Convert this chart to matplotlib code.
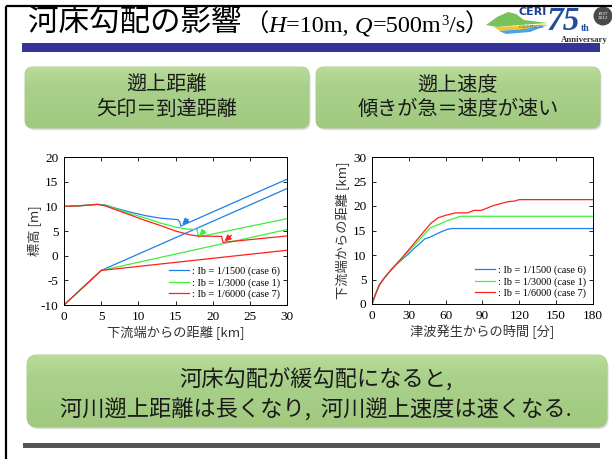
import matplotlib
matplotlib.use("Agg")
import matplotlib.pyplot as plt
import numpy as np
from matplotlib.patches import FancyBboxPatch, Rectangle, Polygon, Circle

plt.rcParams['font.family'] = ['Noto Sans CJK JP', 'DejaVu Sans']
plt.rcParams['axes.unicode_minus'] = False
JP = ['Noto Sans CJK JP', 'DejaVu Sans']
SERIF = ['Liberation Serif', 'Noto Sans CJK JP']

# ---------------- data ----------------
# left chart: river bed profiles (distance km, elevation m)
bed_x = [0, 5, 30]
bed_1500 = [-10, -3, 13.6]
bed_3000 = [-10, -3, 5.3]
bed_6000 = [-10, -3, 1.1]

# water surface (tsunami max + initial river level)
ws_x_1500 = [0, 2, 4.5, 5.5, 7, 9, 11, 13, 14.5, 15.3, 15.6, 15.7, 30]
ws_y_1500 = [10, 10.1, 10.4, 10.3, 9.6, 8.8, 8.1, 7.6, 7.4, 7.3, 6.8, 6.0, 15.5]
ws_x_3000 = [0, 2, 4.5, 5.5, 7, 9, 11, 13, 15, 16.5, 17.9, 18.0, 18.1, 30]
ws_y_3000 = [10, 10.1, 10.4, 10.2, 9.5, 8.5, 7.6, 6.6, 5.8, 5.4, 5.3, 4.5, 3.8, 7.5]
ws_x_6000 = [0, 2, 4.5, 5.5, 7, 9, 11, 13, 15, 17, 18, 21.2, 21.3, 21.4, 30]
ws_y_6000 = [10, 10.1, 10.4, 10.1, 9.3, 8.2, 7.1, 6.1, 5.0, 4.2, 4.0, 3.9, 3.3, 2.7, 4.0]

# arrows marking the run-up reach (tail -> head)
arrow_tail = [(16.7, 7.4), (18.9, 5.1), (22.5, 4.1)]
arrow_head = [(15.9, 6.3), (18.2, 4.0), (21.6, 2.9)]

# right chart: front position vs time (min, km)
t_1500 = [0, 3, 6, 10, 15, 20, 25, 30, 35, 40, 43, 47, 51, 57, 61, 65, 180]
d_1500 = [0, 2.1, 3.9, 5.3, 6.8, 8.1, 9.2, 10.3, 11.5, 12.6, 13.3, 13.6, 14.1, 14.8, 15.2, 15.4, 15.4]
t_3000 = [0, 3, 6, 10, 15, 20, 25, 30, 35, 40, 45, 48, 52, 56, 60, 65, 72, 180]
d_3000 = [0, 2.1, 3.9, 5.3, 6.8, 8.2, 9.5, 10.8, 12.1, 13.5, 14.9, 15.6, 16.0, 16.4, 16.9, 17.3, 17.9, 17.9]
t_6000 = [0, 3, 6, 10, 15, 20, 25, 30, 35, 40, 45, 48, 54, 60, 68, 78, 83, 89, 94, 99, 105, 111, 116, 120, 180]
d_6000 = [0, 2.1, 3.9, 5.3, 6.8, 8.2, 9.6, 11.1, 12.6, 14.1, 15.6, 16.5, 17.6, 18.1, 18.6, 18.6, 19.1, 19.1, 19.6, 20.1, 20.5, 20.9, 21.0, 21.3, 21.3]

labels = [': Ib = 1/1500 (case 6)', ': Ib = 1/3000 (case 1)', ': Ib = 1/6000 (case 7)']
colors = ['#1f7fe8', '#3cf03c', '#ff1f1f']

left_xticks = [0, 5, 10, 15, 20, 25, 30]
left_yticks = [-10, -5, 0, 5, 10, 15, 20]
right_xticks = [0, 30, 60, 90, 120, 150, 180]
right_yticks = [0, 5, 10, 15, 20, 25, 30]

# ---------------- figure ----------------
W, H = 612, 459
fig = plt.figure(figsize=(W / 100, H / 100), dpi=100)
fig.patch.set_facecolor('white')
bg = fig.add_axes([0, 0, 1, 1])
bg.set_xlim(0, W)
bg.set_ylim(H, 0)
bg.axis('off')

# slide frame
bg.plot([6, 6], [6, H], color='black', lw=1.6, solid_capstyle='butt')
bg.plot([6, W], [6, 6], color='black', lw=1.6, solid_capstyle='butt')

# title bar + bottom bar
bg.add_patch(Rectangle((22, 43), 578, 9, facecolor='#333399', edgecolor='none'))
bg.add_patch(Rectangle((23, 443), 577, 4.5, facecolor='#555555', edgecolor='none'))

# title text pieces, placed sequentially
fig.canvas.draw()
renderer = fig.canvas.get_renderer()
xpos = 28
base = 32
pieces = [
    ('河床勾配の影響', JP, 'normal', 22, 0),
    ('（', JP, 'normal', 17.5, 0),
    ('H', SERIF, 'italic', 17.5, 0),
    ('=10m, ', SERIF, 'normal', 17.5, 0),
    ('Q', SERIF, 'italic', 17.5, 0),
    ('=500m', SERIF, 'normal', 17.5, 0),
    ('3', SERIF, 'normal', 10.5, -7),
    ('/s', SERIF, 'normal', 17.5, 0),
    ('）', JP, 'normal', 17.5, 0),
]
for i, (s, fam, sty, sz, dy) in enumerate(pieces):
    if i == 1:
        xpos += 3
    t = bg.text(xpos, base + dy, s, family=fam, style=sty, fontsize=sz,
                va='baseline', ha='left', color='black')
    bb = t.get_window_extent(renderer)
    xpos += bb.width

# logo (approximation)
bg.add_patch(Polygon([(486, 25), (497, 17), (508, 12), (516, 14), (524, 20), (548, 23), (520, 25), (497, 27)],
                     closed=True, facecolor='#78c25a', edgecolor='none'))
bg.add_patch(Polygon([(494, 27), (520, 26), (548, 24), (524, 29), (500, 31)],
                     closed=True, facecolor='#f4c531', edgecolor='none'))
bg.add_patch(Polygon([(499, 31), (524, 29), (548, 25), (530, 32), (506, 34)],
                     closed=True, facecolor='#4ba6e0', edgecolor='none'))
bg.text(533, 12, 'CERI', fontsize=8, fontweight='bold', color='#1b3f8f', ha='center', va='center',
        family=['DejaVu Sans Condensed', 'DejaVu Sans'])
bg.text(531, 27, 'COLD REGION', fontsize=2.6, color='#1b3f8f', ha='center', va='center')
bg.text(547, 30, '75', fontsize=24, style='italic', fontweight='bold', color='#1f4e9c',
        ha='left', va='baseline', family=SERIF)
bg.text(581, 31, 'th', fontsize=7, fontweight='bold', color='#1f4e9c', ha='left', va='baseline',
        family=SERIF)
bg.add_patch(Circle((603, 16), 9.5, facecolor='#4a4a4a', edgecolor='none'))
bg.text(603, 16, '1937\n2012', fontsize=3.8, color='white', ha='center', va='center', family=SERIF,
        linespacing=1.0)
bg.text(584, 42.5, 'Anniversary', fontsize=6.3, fontweight='bold', color='#333333', ha='center',
        va='baseline', family=SERIF)


def green_box(x0, y0, x1, y1, r=8):
    sh = FancyBboxPatch((x0 + 1.5, y0 + 2), x1 - x0, y1 - y0,
                        boxstyle=f"round,pad=0,rounding_size={r}",
                        facecolor='#9a9a9a', edgecolor='none', alpha=0.35)
    bg.add_patch(sh)
    box = FancyBboxPatch((x0, y0), x1 - x0, y1 - y0,
                         boxstyle=f"round,pad=0,rounding_size={r}",
                         facecolor='#a9d18c', edgecolor='#9cc47f', lw=0.6)
    bg.add_patch(box)
    grad = np.linspace(0, 1, 100).reshape(-1, 1)
    c_top = np.array([0.73, 0.86, 0.60])
    c_mid = np.array([0.665, 0.82, 0.545])
    c_bot = np.array([0.63, 0.79, 0.50])
    img = np.where(grad < 0.3, c_top + (c_mid - c_top) * (grad / 0.3),
                   c_mid + (c_bot - c_mid) * ((grad - 0.3) / 0.7))
    img = img.reshape(100, 1, 3)
    im = bg.imshow(img, extent=(x0, x1, y1, y0), aspect='auto', zorder=box.get_zorder() + 0.1,
                   interpolation='bilinear')
    im.set_clip_path(box)


green_box(25, 67, 309, 128)
green_box(316, 67, 600, 128)
green_box(27, 355, 607, 427, r=10)

bg.set_xlim(0, W)
bg.set_ylim(H, 0)

tc = '#1a1a1a'
bg.text(167, 85, '遡上距離', fontsize=14.5, ha='center', va='center', color=tc, zorder=5)
bg.text(167, 109, '矢印＝到達距離', fontsize=14.5, ha='center', va='center', color=tc, zorder=5)
bg.text(458, 85, '遡上速度', fontsize=14.5, ha='center', va='center', color=tc, zorder=5)
bg.text(458, 109, '傾きが急＝速度が速い', fontsize=14.5, ha='center', va='center', color=tc, zorder=5)
bg.text(316, 380, '河床勾配が緩勾配になると,', fontsize=16, ha='center', va='center', color=tc, zorder=5)
bg.text(316, 410, '河川遡上距離は長くなり,  河川遡上速度は速くなる.', fontsize=16, ha='center',
        va='center', color=tc, zorder=5)


def px_axes(x0, y0, x1, y1):
    return fig.add_axes([x0 / W, 1 - y1 / H, (x1 - x0) / W, (y1 - y0) / H])


def style_axes(ax, xt, yt):
    ax.set_xticks(xt)
    ax.set_yticks(yt)
    ax.tick_params(direction='in', length=3, width=0.6, top=True, right=True,
                   labelsize=9.5, pad=4, colors='black')
    for lab in ax.get_xticklabels() + ax.get_yticklabels():
        lab.set_family(SERIF)
    for sp in ax.spines.values():
        sp.set_linewidth(0.7)


# ---------------- left chart ----------------
ax1 = px_axes(64, 157, 287, 305)
beds = [bed_1500, bed_3000, bed_6000]
wsx = [ws_x_1500, ws_x_3000, ws_x_6000]
wsy = [ws_y_1500, ws_y_3000, ws_y_6000]
for i in range(3):
    ax1.plot(bed_x, beds[i], color=colors[i], lw=0.9, label=labels[i])
    ax1.plot(wsx[i], wsy[i], color=colors[i], lw=0.9)
for i in range(3):
    ax1.annotate('', xy=arrow_head[i], xytext=arrow_tail[i],
                 arrowprops=dict(arrowstyle='-|>', color=colors[i], lw=1.0,
                                 mutation_scale=9, shrinkA=0, shrinkB=0))
ax1.set_xlim(0, 30)
ax1.set_ylim(-10, 20)
style_axes(ax1, left_xticks, left_yticks)
ax1.set_xlabel('下流端からの距離 [km]', fontsize=9.5, color='#333333', labelpad=2)
ax1.set_ylabel('標高 [m]', fontsize=9.5, color='#333333', labelpad=0)
leg_kw = dict(loc='lower right', frameon=False, handlelength=2.0, handletextpad=0.25,
              labelspacing=0.2, borderaxespad=0.3, bbox_to_anchor=(1.0, -0.01),
              prop={'family': SERIF, 'size': 7.4})
ax1.legend(**leg_kw)

# ---------------- right chart ----------------
ax2 = px_axes(372, 157, 593, 304)
ts = [t_1500, t_3000, t_6000]
ds = [d_1500, d_3000, d_6000]
for i in range(3):
    ax2.plot(ts[i], ds[i], color=colors[i], lw=0.9, label=labels[i])
ax2.set_xlim(0, 180)
ax2.set_ylim(0, 30)
style_axes(ax2, right_xticks, right_yticks)
ax2.set_xlabel('津波発生からの時間 [分]', fontsize=9.5, color='#333333', labelpad=2)
ax2.set_ylabel('下流端からの距離 [km]', fontsize=9.5, color='#333333', labelpad=3)
ax2.legend(**leg_kw)

fig.savefig('out.png', dpi=100, facecolor='white')
